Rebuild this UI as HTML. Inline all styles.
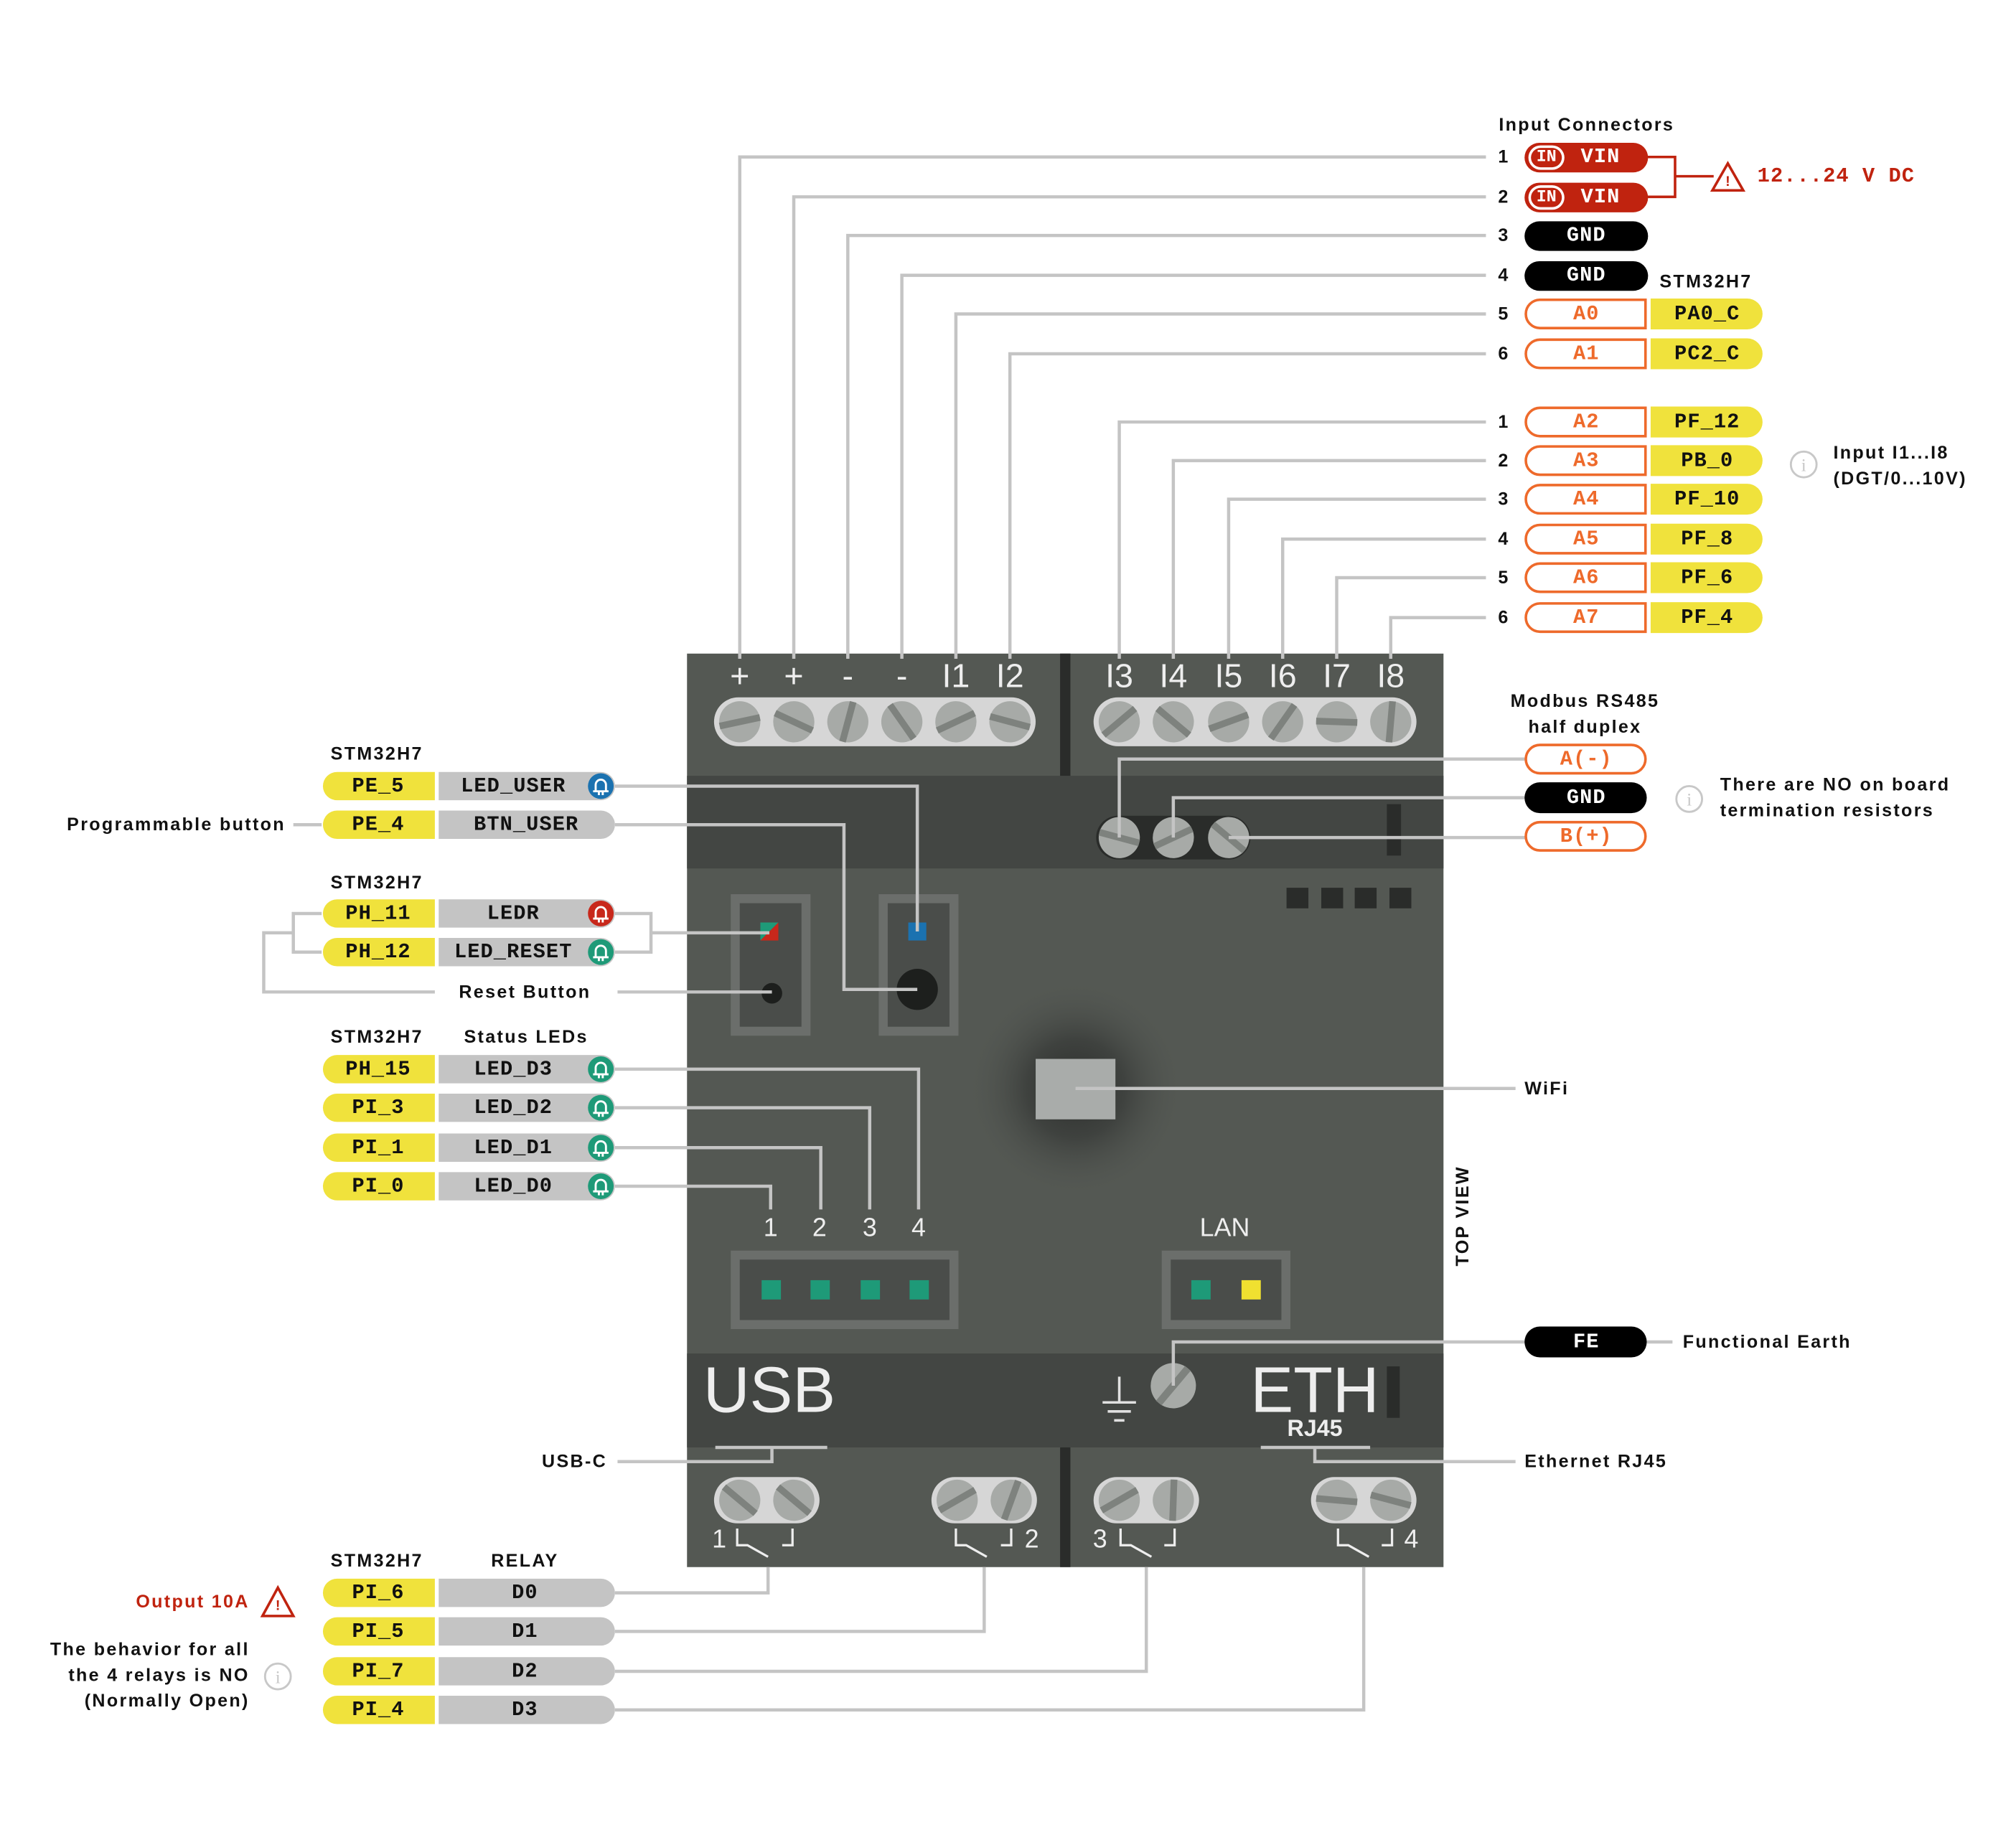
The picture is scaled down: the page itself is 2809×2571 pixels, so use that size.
<!DOCTYPE html>
<html><head><meta charset="utf-8"><style>
html,body{margin:0;padding:0;background:#fff;}
svg{display:block;}
.m{font-family:"Liberation Mono",monospace;font-weight:bold;font-size:16px;letter-spacing:0.6px;text-anchor:middle;dominant-baseline:central;}
.s{font-family:"Liberation Sans",sans-serif;font-weight:bold;font-size:14px;dominant-baseline:central;letter-spacing:1.3px;fill:#111;}
.w{font-family:"Liberation Sans",sans-serif;fill:#eee;text-anchor:middle;dominant-baseline:central;}
.ln{stroke:#c4c4c4;stroke-width:2.5;fill:none;}
</style></head><body>
<svg width="2809" height="2571" viewBox="0 0 1567 1434" preserveAspectRatio="none" xmlns="http://www.w3.org/2000/svg">
<defs>
<radialGradient id="glow"><stop offset="0" stop-color="#2e302e"/><stop offset="0.45" stop-color="#3f423f"/><stop offset="1" stop-color="#545853" stop-opacity="0"/></radialGradient>
<g id="sc"><circle r="16" fill="#a7aaa7"/><rect x="-16" y="-2.6" width="32" height="5.2" fill="#7e827e"/></g>
<g id="led"><circle r="10" fill="currentColor"/><path d="M-4,4 V-1 A4,4 0 0 1 4,-1 V4 M-6,4 H6 M-1.5,4 V7 M1.5,4 V7" stroke="#fff" stroke-width="1.6" fill="none"/></g>
<g id="info"><circle r="10" fill="none" stroke="#c8c8c8" stroke-width="1.6"/><text x="0" y="1" font-family="Liberation Serif,serif" font-size="14" fill="#c8c8c8" text-anchor="middle" dominant-baseline="central">i</text></g>
</defs>

<rect x="534" y="508" width="588" height="710" fill="#545853"/>
<rect x="534" y="603" width="588" height="72" fill="#434643"/>
<rect x="534" y="1052" width="588" height="73" fill="#434643"/>
<rect x="824" y="508" width="8" height="95" fill="#2a2c2a"/>
<rect x="824" y="1125" width="8" height="93" fill="#2a2c2a"/>

<g class="w" font-size="26">
<text x="575" y="525">+</text><text x="617" y="525">+</text><text x="659" y="525">-</text><text x="701" y="525">-</text><text x="743" y="525">I1</text><text x="785" y="525">I2</text>
<text x="870" y="525">I3</text><text x="912" y="525">I4</text><text x="955" y="525">I5</text><text x="997" y="525">I6</text><text x="1039" y="525">I7</text><text x="1081" y="525">I8</text>
</g>
<rect x="555" y="542" width="250" height="38" rx="19" fill="#d6d6d6"/>
<rect x="850" y="542" width="251" height="38" rx="19" fill="#d6d6d6"/>
<use href="#sc" transform="translate(575,561) rotate(-12)"/>
<use href="#sc" transform="translate(617,561) rotate(25)"/>
<use href="#sc" transform="translate(659,561) rotate(-75)"/>
<use href="#sc" transform="translate(701,561) rotate(55)"/>
<use href="#sc" transform="translate(743,561) rotate(-25)"/>
<use href="#sc" transform="translate(785,561) rotate(15)"/>
<use href="#sc" transform="translate(870,561) rotate(-40)"/>
<use href="#sc" transform="translate(912,561) rotate(40)"/>
<use href="#sc" transform="translate(955,561) rotate(-20)"/>
<use href="#sc" transform="translate(997,561) rotate(-55)"/>
<use href="#sc" transform="translate(1039,561) rotate(2)"/>
<use href="#sc" transform="translate(1081,561) rotate(-85)"/>

<rect x="852" y="634" width="120" height="34" rx="17" fill="#2a2c2a"/>
<use href="#sc" transform="translate(870,651) rotate(15)"/>
<use href="#sc" transform="translate(912,651) rotate(-25)"/>
<use href="#sc" transform="translate(955,651) rotate(40)"/>
<rect x="1078" y="625" width="11" height="40" fill="#2a2c2a"/>
<g fill="#2a2c2a"><rect x="1000" y="690" width="17" height="16"/><rect x="1027" y="690" width="17" height="16"/><rect x="1053" y="690" width="17" height="16"/><rect x="1080" y="690" width="17" height="16"/></g>

<g>
<rect x="568" y="695" width="62" height="110" fill="#6b6e6b"/><rect x="575" y="702" width="48" height="96" fill="#4a4d4a"/>
<rect x="683" y="695" width="62" height="110" fill="#6b6e6b"/><rect x="690" y="702" width="48" height="96" fill="#4a4d4a"/>
<polygon points="591,717 605,717 591,731" fill="#1e9a78"/><polygon points="605,717 605,731 591,731" fill="#c8281b"/>
<rect x="706" y="717" width="14" height="14" fill="#1b72b0"/>
<circle cx="600" cy="772" r="8" fill="#1d1f1d"/>
<circle cx="713" cy="769" r="16" fill="#1d1f1d"/>
<rect x="568" y="972" width="177" height="61" fill="#6b6e6b"/><rect x="575" y="979" width="163" height="47" fill="#4a4d4a"/>
<rect x="903" y="972" width="100" height="61" fill="#6b6e6b"/><rect x="910" y="979" width="86" height="47" fill="#4a4d4a"/>
<g fill="#1e9a78"><rect x="592" y="995" width="15" height="15"/><rect x="630" y="995" width="15" height="15"/><rect x="669" y="995" width="15" height="15"/><rect x="707" y="995" width="15" height="15"/><rect x="926" y="995" width="15" height="15"/></g>
<rect x="965" y="995" width="15" height="15" fill="#f0e030"/>
</g>
<g class="w" font-size="20"><text x="599" y="954">1</text><text x="637" y="954">2</text><text x="676" y="954">3</text><text x="714" y="954">4</text><text x="952" y="954">LAN</text></g>

<circle cx="836" cy="846" r="85" fill="url(#glow)"/>
<rect x="805" y="823" width="62" height="47" fill="#a9acaa"/>

<text class="w" x="598" y="1080" font-size="50">USB</text>
<text class="w" x="1022" y="1080" font-size="50">ETH</text>
<text class="w" x="1022" y="1110" font-size="18" font-weight="bold">RJ45</text>
<rect x="1078" y="1062" width="10" height="40" fill="#2a2c2a"/>
<g stroke="#e0e0e0" stroke-width="2"><path d="M870,1070 V1090 M857,1090 H883 M861,1097 H879 M866,1104 H874"/></g>
<use href="#sc" transform="translate(912,1077) rotate(-50) scale(1.1)"/>

<rect x="555" y="1148" width="82" height="36" rx="18" fill="#d6d6d6"/>
<rect x="724" y="1148" width="82" height="36" rx="18" fill="#d6d6d6"/>
<rect x="850" y="1148" width="82" height="36" rx="18" fill="#d6d6d6"/>
<rect x="1019" y="1148" width="82" height="36" rx="18" fill="#d6d6d6"/>
<use href="#sc" transform="translate(575,1166) rotate(40)"/><use href="#sc" transform="translate(617,1166) rotate(40)"/>
<use href="#sc" transform="translate(744,1166) rotate(-30)"/><use href="#sc" transform="translate(786,1166) rotate(-70)"/>
<use href="#sc" transform="translate(870,1166) rotate(-30)"/><use href="#sc" transform="translate(912,1166) rotate(-88)"/>
<use href="#sc" transform="translate(1039,1166) rotate(5)"/><use href="#sc" transform="translate(1081,1166) rotate(15)"/>
<g class="w" font-size="20"><text x="559" y="1196">1</text><text x="802" y="1196">2</text><text x="855" y="1196">3</text><text x="1097" y="1196">4</text></g>
<g stroke="#eee" stroke-width="1.8" fill="none">
<path d="M573,1188 V1201 H581 L597,1210 M616,1188 V1201 H608"/>
<path d="M743,1188 V1201 H751 L767,1210 M786,1188 V1201 H778"/>
<path d="M871,1188 V1201 H879 L895,1210 M913,1188 V1201 H905"/>
<path d="M1040,1188 V1201 H1048 L1064,1210 M1082,1188 V1201 H1074"/>
</g>

<g class="ln">
<path d="M575,512 V122 H1155"/><path d="M617,512 V153 H1155"/><path d="M659,512 V183 H1155"/><path d="M701,512 V214 H1155"/><path d="M743,512 V244 H1155"/><path d="M785,512 V275 H1155"/>
<path d="M870,512 V328 H1155"/><path d="M912,512 V358 H1155"/><path d="M955,512 V388 H1155"/><path d="M997,512 V419 H1155"/><path d="M1039,512 V449 H1155"/><path d="M1081,512 V480 H1155"/>
<path d="M870,651 V590 H1186"/><path d="M912,651 V620 H1186"/><path d="M955,651 H1186"/>
<path d="M478,611 H713 V724"/>
<path d="M478,641 H656 V769 H713"/>
<path d="M478,710 H506 V740 H478 M506,725 H598"/>
<path d="M250,710 H228 V740 H250 M228,725 H205 V771 H338"/>
<path d="M480,771 H600"/>
<path d="M228,641 H250"/>
<path d="M478,831 H714 V940"/><path d="M478,861 H676 V940"/><path d="M478,892 H638 V940"/><path d="M478,922 H599 V940"/>
<path d="M836,846 H1178"/>
<path d="M912,1077 V1043 H1186"/><path d="M1280,1043 H1300"/>
<path d="M556,1125 H643 M600,1125 V1136 H480"/>
<path d="M980,1125 H1065 M1022,1125 V1136 H1178"/>
<path d="M597,1218 V1238 H478"/><path d="M765,1218 V1268 H478"/><path d="M891,1218 V1299 H478"/><path d="M1060,1218 V1329 H478"/>
</g>

<text class="s" x="1165" y="97">Input Connectors</text>
<g class="s" text-anchor="middle" font-size="15">
<text x="1169" y="122">1</text><text x="1169" y="153">2</text><text x="1169" y="183">3</text><text x="1169" y="214">4</text><text x="1169" y="244">5</text><text x="1169" y="275">6</text>
<text x="1169" y="328">1</text><text x="1169" y="358">2</text><text x="1169" y="388">3</text><text x="1169" y="419">4</text><text x="1169" y="449">5</text><text x="1169" y="480">6</text>
</g>
<rect x="1185" y="111" width="96" height="23" rx="11.5" fill="#c0230f"/>
<rect x="1185" y="142" width="96" height="23" rx="11.5" fill="#c0230f"/>
<rect x="1188" y="113" width="28" height="19" rx="9.5" fill="#fff"/><rect x="1190" y="115" width="24" height="15" rx="7.5" fill="#c0230f"/>
<rect x="1188" y="144" width="28" height="19" rx="9.5" fill="#fff"/><rect x="1190" y="146" width="24" height="15" rx="7.5" fill="#c0230f"/>
<g class="m" fill="#fff"><text x="1202" y="122" font-size="13" letter-spacing="0">IN</text><text x="1202" y="153" font-size="13" letter-spacing="0">IN</text><text x="1244" y="122">VIN</text><text x="1244" y="153">VIN</text></g>
<path d="M1280,122 H1302 V153 H1280 M1302,137 H1332" stroke="#c0230f" stroke-width="2" fill="none"/>
<path d="M1343,127 L1355,148 H1331 Z" stroke="#c0230f" stroke-width="2" fill="#fff"/><text x="1343" y="141" font-family="Liberation Sans" font-weight="bold" font-size="11" fill="#c0230f" text-anchor="middle" dominant-baseline="central">!</text>
<text class="m" x="1366" y="137" fill="#c0230f" font-size="14" text-anchor="start" style="text-anchor:start">12...24 V DC</text>
<rect x="1185" y="172" width="96" height="23" rx="11.5" fill="#000"/><rect x="1185" y="203" width="96" height="23" rx="11.5" fill="#000"/>
<g class="m" fill="#fff"><text x="1233" y="183">GND</text><text x="1233" y="214">GND</text></g>
<text class="s" x="1326" y="219" text-anchor="middle">STM32H7</text>

<g fill="#fff" stroke="#ee6a2b" stroke-width="2">
<path d="M1197,233 H1279 V255 H1197 A11,11 0 0 1 1197,233 Z"/>
<path d="M1197,264 H1279 V286 H1197 A11,11 0 0 1 1197,264 Z"/>
<path d="M1197,317 H1279 V339 H1197 A11,11 0 0 1 1197,317 Z"/>
<path d="M1197,347 H1279 V369 H1197 A11,11 0 0 1 1197,347 Z"/>
<path d="M1197,377 H1279 V399 H1197 A11,11 0 0 1 1197,377 Z"/>
<path d="M1197,408 H1279 V430 H1197 A11,11 0 0 1 1197,408 Z"/>
<path d="M1197,438 H1279 V460 H1197 A11,11 0 0 1 1197,438 Z"/>
<path d="M1197,469 H1279 V491 H1197 A11,11 0 0 1 1197,469 Z"/>
<rect x="1186" y="579" width="93" height="22" rx="11"/>
<rect x="1186" y="639" width="93" height="22" rx="11"/>
</g>
<g fill="#f0e23c">
<path d="M1283,232 H1358 A12,12 0 0 1 1358,256 H1283 Z"/>
<path d="M1283,263 H1358 A12,12 0 0 1 1358,287 H1283 Z"/>
<path d="M1283,316 H1358 A12,12 0 0 1 1358,340 H1283 Z"/>
<path d="M1283,346 H1358 A12,12 0 0 1 1358,370 H1283 Z"/>
<path d="M1283,376 H1358 A12,12 0 0 1 1358,400 H1283 Z"/>
<path d="M1283,407 H1358 A12,12 0 0 1 1358,431 H1283 Z"/>
<path d="M1283,437 H1358 A12,12 0 0 1 1358,461 H1283 Z"/>
<path d="M1283,468 H1358 A12,12 0 0 1 1358,492 H1283 Z"/>
</g>
<g class="m" fill="#ee6a2b">
<text x="1233" y="244">A0</text><text x="1233" y="275">A1</text><text x="1233" y="328">A2</text><text x="1233" y="358">A3</text><text x="1233" y="388">A4</text><text x="1233" y="419">A5</text><text x="1233" y="449">A6</text><text x="1233" y="480">A7</text>
<text x="1233" y="590">A(-)</text><text x="1233" y="650">B(+)</text>
</g>
<g class="m" fill="#111">
<text x="1327" y="244">PA0_C</text><text x="1327" y="275">PC2_C</text><text x="1327" y="328">PF_12</text><text x="1327" y="358">PB_0</text><text x="1327" y="388">PF_10</text><text x="1327" y="419">PF_8</text><text x="1327" y="449">PF_6</text><text x="1327" y="480">PF_4</text>
</g>
<use href="#info" x="1402" y="361"/>
<text class="s" x="1425" y="352">Input I1...I8</text>
<text class="s" x="1425" y="372">(DGT/0...10V)</text>

<text class="s" x="1232" y="545" text-anchor="middle">Modbus RS485</text>
<text class="s" x="1232" y="565" text-anchor="middle">half duplex</text>
<rect x="1185" y="608" width="95" height="24" rx="12" fill="#000"/>
<text class="m" x="1233" y="620" fill="#fff">GND</text>
<use href="#info" x="1313" y="621"/>
<text class="s" x="1337" y="610">There are NO on board</text>
<text class="s" x="1337" y="630">termination resistors</text>

<text class="s" x="1185" y="846">WiFi</text>
<text class="s" x="1137" y="945" text-anchor="middle" transform="rotate(-90 1137 945)" font-size="16">TOP VIEW</text>
<rect x="1185" y="1031" width="95" height="24" rx="12" fill="#000"/>
<text class="m" x="1233" y="1043" fill="#fff">FE</text>
<text class="s" x="1308" y="1043">Functional Earth</text>
<text class="s" x="1185" y="1136">Ethernet RJ45</text>

<g class="s" text-anchor="middle">
<text x="293" y="586">STM32H7</text><text x="293" y="686">STM32H7</text><text x="293" y="806">STM32H7</text><text x="409" y="806">Status LEDs</text>
<text x="293" y="1213">STM32H7</text><text x="408" y="1213">RELAY</text>
</g>
<text class="s" x="222" y="641" text-anchor="end">Programmable button</text>
<text class="s" x="408" y="771" text-anchor="middle" letter-spacing="3">Reset Button</text>
<text class="s" x="472" y="1136" text-anchor="end">USB-C</text>

<g fill="#f0e23c">
<path d="M338,600 H262 A11,11 0 0 0 262,622 H338 Z"/>
<path d="M338,630 H262 A11,11 0 0 0 262,652 H338 Z"/>
<path d="M338,699 H262 A11,11 0 0 0 262,721 H338 Z"/>
<path d="M338,729 H262 A11,11 0 0 0 262,751 H338 Z"/>
<path d="M338,820 H262 A11,11 0 0 0 262,842 H338 Z"/>
<path d="M338,850 H262 A11,11 0 0 0 262,872 H338 Z"/>
<path d="M338,881 H262 A11,11 0 0 0 262,903 H338 Z"/>
<path d="M338,911 H262 A11,11 0 0 0 262,933 H338 Z"/>
<path d="M338,1227 H262 A11,11 0 0 0 262,1249 H338 Z"/>
<path d="M338,1257 H262 A11,11 0 0 0 262,1279 H338 Z"/>
<path d="M338,1288 H262 A11,11 0 0 0 262,1310 H338 Z"/>
<path d="M338,1318 H262 A11,11 0 0 0 262,1340 H338 Z"/>
</g>
<g fill="#c4c4c4">
<path d="M341,600 H467 A11,11 0 0 1 467,622 H341 Z"/>
<path d="M341,630 H467 A11,11 0 0 1 467,652 H341 Z"/>
<path d="M341,699 H467 A11,11 0 0 1 467,721 H341 Z"/>
<path d="M341,729 H467 A11,11 0 0 1 467,751 H341 Z"/>
<path d="M341,820 H467 A11,11 0 0 1 467,842 H341 Z"/>
<path d="M341,850 H467 A11,11 0 0 1 467,872 H341 Z"/>
<path d="M341,881 H467 A11,11 0 0 1 467,903 H341 Z"/>
<path d="M341,911 H467 A11,11 0 0 1 467,933 H341 Z"/>
<path d="M341,1227 H467 A11,11 0 0 1 467,1249 H341 Z"/>
<path d="M341,1257 H467 A11,11 0 0 1 467,1279 H341 Z"/>
<path d="M341,1288 H467 A11,11 0 0 1 467,1310 H341 Z"/>
<path d="M341,1318 H467 A11,11 0 0 1 467,1340 H341 Z"/>
</g>
<g class="m" fill="#111">
<text x="294" y="611">PE_5</text><text x="294" y="641">PE_4</text><text x="294" y="710">PH_11</text><text x="294" y="740">PH_12</text>
<text x="294" y="831">PH_15</text><text x="294" y="861">PI_3</text><text x="294" y="892">PI_1</text><text x="294" y="922">PI_0</text>
<text x="294" y="1238">PI_6</text><text x="294" y="1268">PI_5</text><text x="294" y="1299">PI_7</text><text x="294" y="1329">PI_4</text>
<text x="399" y="611">LED_USER</text><text x="409" y="641">BTN_USER</text><text x="399" y="710">LEDR</text><text x="399" y="740">LED_RESET</text>
<text x="399" y="831">LED_D3</text><text x="399" y="861">LED_D2</text><text x="399" y="892">LED_D1</text><text x="399" y="922">LED_D0</text>
<text x="408" y="1238">D0</text><text x="408" y="1268">D1</text><text x="408" y="1299">D2</text><text x="408" y="1329">D3</text>
</g>
<use href="#led" x="467" y="611" color="#1b72b0"/>
<use href="#led" x="467" y="710" color="#c8281b"/>
<use href="#led" x="467" y="740" color="#1e9a78"/>
<use href="#led" x="467" y="831" color="#1e9a78"/>
<use href="#led" x="467" y="861" color="#1e9a78"/>
<use href="#led" x="467" y="892" color="#1e9a78"/>
<use href="#led" x="467" y="922" color="#1e9a78"/>

<text class="s" x="194" y="1245" text-anchor="end" style="fill:#c0230f">Output 10A</text>
<path d="M216,1234 L228,1256 H204 Z" stroke="#c0230f" stroke-width="2" fill="#fff"/>
<text x="216" y="1248" font-family="Liberation Sans" font-weight="bold" font-size="11" fill="#c0230f" text-anchor="middle" dominant-baseline="central">!</text>
<text class="s" x="194" y="1282" text-anchor="end">The behavior for all</text>
<text class="s" x="194" y="1302" text-anchor="end">the 4 relays is NO</text>
<text class="s" x="194" y="1322" text-anchor="end">(Normally Open)</text>
<use href="#info" x="216" y="1303"/>
</svg>
</body></html>
